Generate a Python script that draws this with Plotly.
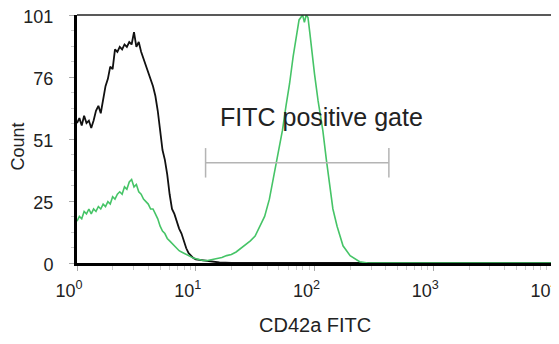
import plotly.graph_objects as go

# ---- data ----
control_fitc = [1.0, 1.047, 1.096, 1.148, 1.202, 1.259, 1.318, 1.380, 1.445, 1.514,
                1.585, 1.660, 1.738, 1.820, 1.905, 1.995, 2.089, 2.188, 2.291, 2.399,
                2.512, 2.630, 2.754, 2.884, 3.020, 3.162, 3.311, 3.467, 3.631, 3.802,
                3.981, 4.169, 4.365, 4.571, 4.786, 5.012, 5.248, 5.495, 5.754, 6.026,
                6.310, 6.607, 6.918, 7.244, 7.586, 7.943, 8.318, 8.710, 9.120, 9.550,
                10.0, 11.2, 12.6, 14.1, 15.8, 20.0, 10000.0]
control_count = [57, 59, 56, 60, 57, 58, 55, 58, 62, 64,
                 61, 67, 72, 75, 80, 79, 87, 86, 88, 87,
                 89, 88, 90, 89, 94, 88, 90, 86, 83, 80,
                 78, 75, 72, 68, 62, 54, 46, 42, 36, 28,
                 22, 20, 17, 14, 12, 9, 6, 4, 3, 2,
                 1.5, 1.2, 1.0, 0.5, 0.2, 0, 0]

cd42a_fitc = [1.0, 1.047, 1.096, 1.148, 1.202, 1.259, 1.318, 1.380, 1.445, 1.514,
              1.585, 1.660, 1.738, 1.820, 1.905, 1.995, 2.089, 2.188, 2.291, 2.399,
              2.512, 2.630, 2.754, 2.884, 3.020, 3.162, 3.311, 3.467, 3.631, 3.802,
              3.981, 4.169, 4.365, 4.571, 4.786, 5.012, 5.248, 5.495, 5.754, 6.026,
              6.310, 6.607, 6.918, 7.244, 7.586, 7.943, 8.710, 9.550, 10.47, 11.48,
              12.59, 13.80, 15.14, 16.60, 18.20, 19.95, 21.88, 23.99, 26.30, 28.84,
              31.62, 34.67, 38.02, 41.69, 45.71, 50.12, 53.70, 57.54, 61.66, 66.07,
              70.79, 74.13, 79.43, 82.22, 85.11, 88.10, 91.20, 94.41, 100.0, 107.2,
              117.5, 125.9, 134.9, 142.9, 154.9, 173.8, 199.5, 239.9, 281.8, 10000.0]
cd42a_count = [17, 19, 18, 21, 20, 22, 20, 22, 21, 23,
               22, 24, 23, 25, 24, 27, 26, 28, 29, 28,
               31, 30, 33, 34, 31, 32, 29, 28, 26, 25,
               24, 22, 22, 20, 18, 15, 13, 12, 10, 9,
               8, 7, 6, 5, 4.5, 4, 3, 2, 1.5, 1,
               1, 1.3, 1.8, 2.2, 3, 3.5, 4.5, 6, 7.5, 9,
               11, 15, 19, 26, 36, 46, 54, 64, 73, 84,
               94, 99, 101, 98, 101, 100, 94, 87, 77, 66,
               54, 42, 30, 22, 15, 7, 3, 0.5, 0, 0]

gate_low, gate_high, gate_count, gate_cap = 12.1, 423.0, 40.8, 6.0
gate_label = "FITC positive gate"

x_tickvals = [1, 10, 100, 1000, 10000]
x_ticktext = ["10<sup>0</sup>", "10<sup>1</sup>", "10<sup>2</sup>", "10<sup>3</sup>", "10<sup>4</sup>"]
x_minor = [m * d for d in (1, 10, 100, 1000) for m in range(2, 10)]
y_tickvals = [0, 25.25, 50.5, 75.75, 101]
y_ticktext = ["0", "25", "51", "76", "101"]
y_minor = [i * 101 / 16 for i in range(17)]

FONT = "Liberation Sans, Arial, sans-serif"

fig = go.Figure()
fig.add_trace(go.Scatter(x=control_fitc, y=control_count, mode="lines",
                         line=dict(color="#111111", width=1.8), showlegend=False))
fig.add_trace(go.Scatter(x=cd42a_fitc, y=cd42a_count, mode="lines",
                         line=dict(color="#46c467", width=1.6), showlegend=False))
# gate bar with end caps
fig.add_trace(go.Scatter(
    x=[gate_low, gate_high, None, gate_low, gate_low, None, gate_high, gate_high],
    y=[gate_count, gate_count, None, gate_count - gate_cap, gate_count + gate_cap, None,
       gate_count - gate_cap, gate_count + gate_cap],
    mode="lines", line=dict(color="#b4b4b4", width=1.5), showlegend=False))

fig.add_annotation(x=2.06, y=59.3, xref="x", yref="y", text=gate_label, showarrow=False,
                   font=dict(family=FONT, size=25, color="#222222"))
fig.add_annotation(x=0.5, y=-0.25, xref="paper", yref="paper", text="CD42a FITC",
                   showarrow=False, yanchor="middle",
                   font=dict(family=FONT, size=20, color="#222222"))
fig.add_annotation(x=-0.124, y=0.47, xref="paper", yref="paper", text="Count",
                   showarrow=False, textangle=-90, xanchor="center", yanchor="middle",
                   font=dict(family=FONT, size=18, color="#222222"))

# thin top and right frame lines
fig.add_shape(type="line", xref="x domain", yref="y domain", x0=0, x1=1, y0=1, y1=1,
              line=dict(color="#222222", width=1.5), layer="above")
fig.add_shape(type="line", xref="x domain", yref="y domain", x0=1, x1=1, y0=0, y1=1,
              line=dict(color="#222222", width=2), layer="above")

# the page body adds an 8px offset; the figure is sized so the plot sits where the reference has it
fig.update_layout(
    width=551, height=336,
    margin=dict(l=69, r=7, t=7, b=81, autoexpand=False),
    paper_bgcolor="white", plot_bgcolor="white",
    font=dict(family=FONT, size=18, color="#222222"),
    xaxis=dict(type="log", range=[0, 4], showgrid=False, zeroline=False,
               automargin=False, ticklabeloverflow="allow",
               showline=True, linecolor="black", linewidth=3,
               tickmode="array", tickvals=x_tickvals, ticktext=x_ticktext,
               ticks="outside", ticklen=5, tickcolor="#aaaaaa", tickwidth=1,
               ticklabelshift=-8, ticklabelstandoff=4,
               tickfont=dict(family=FONT, size=18, color="#222222"),
               minor=dict(tickmode="array", tickvals=x_minor, ticks="outside",
                          ticklen=4, tickcolor="#cccccc", showgrid=False),
               layer="above traces"),
    yaxis=dict(range=[0, 101], showgrid=False, zeroline=False,
               automargin=False, ticklabeloverflow="allow",
               showline=True, linecolor="black", linewidth=3,
               tickmode="array", tickvals=y_tickvals, ticktext=y_ticktext,
               ticks="outside", ticklen=5, tickcolor="#aaaaaa", tickwidth=1,
               ticklabelstandoff=12, ticklabelshift=2,
               tickfont=dict(family=FONT, size=18, color="#222222"),
               minor=dict(tickmode="array", tickvals=y_minor, ticks="outside",
                          ticklen=3, tickcolor="#cccccc", showgrid=False),
               layer="above traces"),
)

fig.write_html("out.html")
